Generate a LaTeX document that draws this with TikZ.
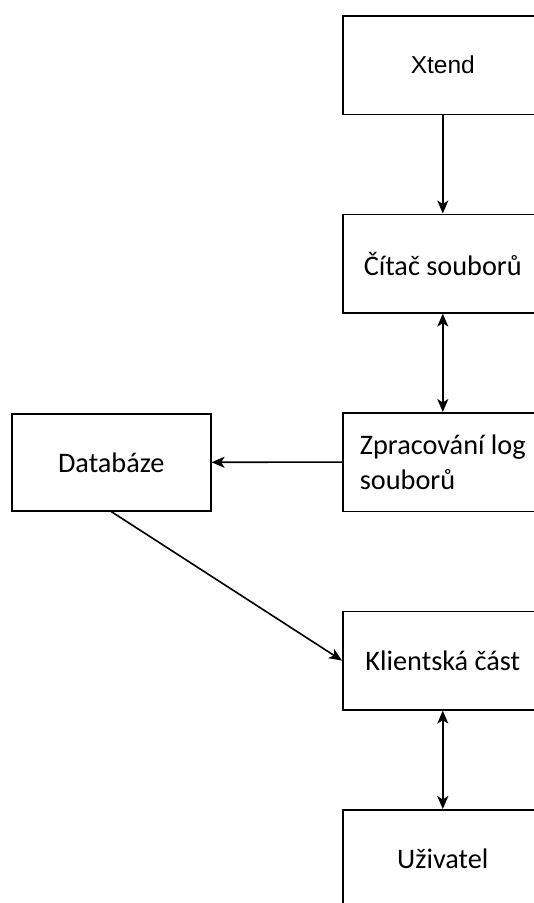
\documentclass[tikz,border=0pt]{standalone}
\usepackage{fontspec}
\setmainfont{Carlito}
\newfontfamily\xfont{Liberation Sans}
\usetikzlibrary{arrows.meta}
\begin{document}
\begin{tikzpicture}[x=1pt,y=-1pt,
  box/.style={draw=black, line width=1.6pt, minimum width=200pt, minimum height=98.5pt,
    inner sep=0pt, anchor=north west, font=\fontsize{28.3}{35}\selectfont},
  >={Stealth[length=13pt,width=11pt,inset=3.5pt]},
  conn/.style={draw=black, line width=1.6pt}]
\clip (0,0) rectangle (534,903);
\node[box, font=\xfont\fontsize{24.5}{29}\selectfont] (xt) at (342,15) {Xtend};
\node[box] (ct) at (342,213.5) {Čítač souborů};
\node[box, align=left] (zp) at (342,412) {Zpracování log\\souborů};
\node[box, minimum width=199pt, minimum height=97pt] (db) at (11,413) {Databáze};
\node[box] (kl) at (342,610.5) {Klientská část};
\node[box] (uz) at (342,809) {Uživatel};
\draw[conn, ->] (xt.south) -- (ct.north);
\draw[conn, <->] (ct.south) -- (zp.north);
\draw[conn, ->] (zp.west) -- (db.east);
\draw[conn, ->] (db.south) -- (kl.west);
\draw[conn, <->] (kl.south) -- (uz.north);
\end{tikzpicture}
\end{document}
